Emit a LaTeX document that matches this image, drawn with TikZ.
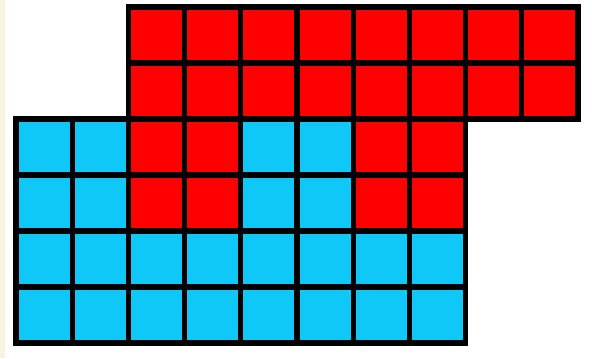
\documentclass[tikz,border=0pt]{standalone}
\usepackage{tikz}
\usepackage{xcolor}
\definecolor{tilered}{HTML}{FF0000}
\definecolor{tileblue}{HTML}{10C8F8}
\definecolor{paperedge}{HTML}{F8F3E2}

\begin{document}
\begin{tikzpicture}[x=1.124cm, y=1.12cm,
          tile/.style={draw=black, line width=3pt, line join=miter}]
        \useasboundingbox (-0.32cm,-0.30cm) rectangle (11.52cm,6.86cm);
        \fill[paperedge] (-0.32cm,-0.30cm) rectangle (-0.22cm,6.86cm);
        % red tiles
        \foreach \y in {4,5}
          \foreach \x in {2,...,9}
            \draw[tile, fill=tilered] (\x,\y) rectangle ++(1,1);
        \foreach \y in {2,3}
          \foreach \x in {2,3,6,7}
            \draw[tile, fill=tilered] (\x,\y) rectangle ++(1,1);
        % blue tiles
        \foreach \y in {0,1}
          \foreach \x in {0,...,7}
            \draw[tile, fill=tileblue] (\x,\y) rectangle ++(1,1);
        \foreach \y in {2,3}
          \foreach \x in {0,1,4,5}
            \draw[tile, fill=tileblue] (\x,\y) rectangle ++(1,1);
      \end{tikzpicture}
\end{document}
